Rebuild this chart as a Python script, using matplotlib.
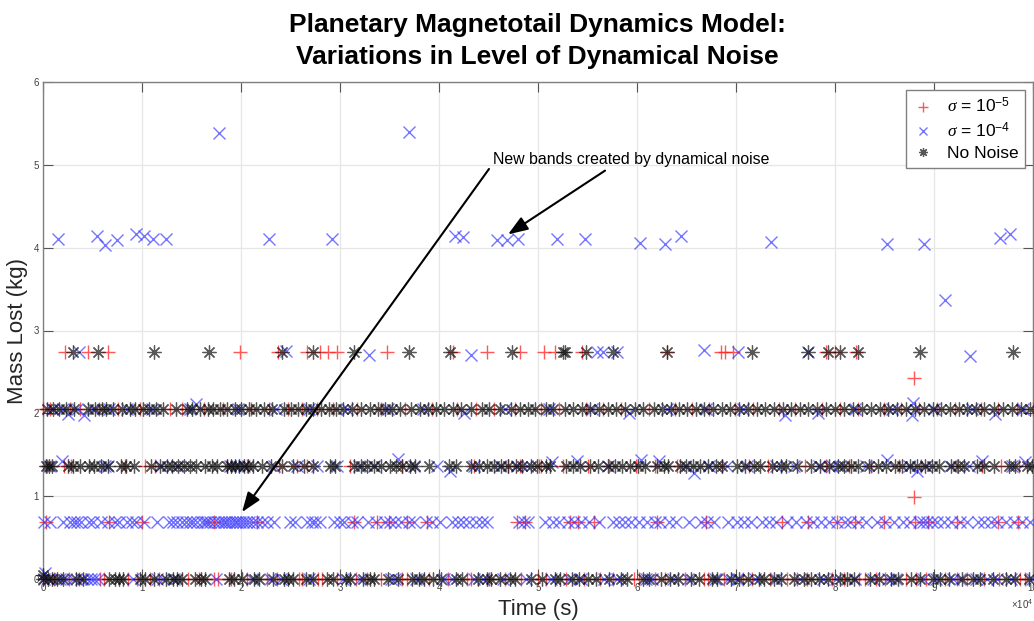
import matplotlib
matplotlib.use("Agg")
import matplotlib.pyplot as plt

plt.rcParams["font.family"] = ["Liberation Sans", "DejaVu Sans"]
plt.rcParams["mathtext.fontset"] = "custom"
plt.rcParams["mathtext.rm"] = "Liberation Sans"
plt.rcParams["mathtext.it"] = "Liberation Serif:italic"

# ---- data: time (s) of each event, grouped by mass-loss level (kg) ----
levels = [0.0, 0.684, 1.368, 2.052, 2.736]

red_l0 = [200, 1100, 2600, 3600, 5800, 6200, 8600, 9500, 10800, 11700, 14600, 15800, 17300, 17700,
          19000, 20600, 22600, 23600, 25900, 26200, 27800, 28200, 29700, 31600, 32700, 34100, 36300,
          36800, 39000, 40900, 42800, 43200, 45000, 46700, 48300, 50000, 50800, 52800, 54600, 56300,
          57600, 59700, 60200, 61800, 62800, 64800, 66800, 67200, 68800, 70700, 71600, 73400, 75200,
          76200, 77200, 79700, 80900, 82400, 83000, 84100, 85100, 87200, 88200, 89200, 91100, 92300,
          93300, 95100, 96600, 98700, 99200]
red_l1 = [340, 6630, 10000, 17240, 21600, 31380, 33740, 34900, 36770, 38790, 47880, 48720, 53230,
          54000, 55690, 62000, 67000, 74600, 77300, 80200, 82050, 84900, 88100, 89430, 92300, 96500,
          98500]
red_l2 = [400, 2100, 2800, 8300, 10300, 11300, 18600, 20600, 23800, 25700, 26700, 31000, 36300,
          43500, 47000, 48200, 50100, 50300, 52500, 55100, 57200, 59900, 61800, 64000, 68600, 71300,
          73200, 77000, 79100, 81400, 83600, 86500, 88700, 92300, 94800, 96800, 98600]
red_l3 = [0, 700, 2700, 3700, 5700, 7600, 9800, 12800, 14000, 16300, 18200, 21000, 22800, 24700,
          26200, 27700, 29300, 31700, 34100, 36600, 39300, 41800, 43700, 45600, 47700, 50300, 52100,
          54800, 56600, 58400, 61200, 63800, 65600, 67300, 69900, 71700, 74300, 76000, 78700, 80500,
          82300, 84900, 86700, 88500, 90300, 92100, 94700, 96500, 98400, 100000]
red_l4 = [2222, 4545, 6566, 19899, 23737, 26667, 27980, 28788, 29697, 34747, 41414, 44848, 48182,
          50606, 51717, 54444, 63030, 68485, 68889, 69697, 79091, 80000, 82121]
red_extra_x = [87980, 87980]
red_extra_y = [2.43, 0.99]

blue_l0 = [100, 600, 1700, 2300, 3000, 3800, 4400, 4800, 5200, 5600, 9100, 11500, 12100, 13200,
           17500, 21100, 22900, 24000, 26900, 30300, 32000, 35200, 35600, 37700, 40500, 41300,
           43500, 44400, 46500, 48800, 51300, 53100, 54300, 56700, 58000, 60900, 61500, 63600,
           65200, 67900, 69200, 70100, 71900, 74000, 76500, 78800, 80100, 82000, 83800, 85400,
           86200, 88900, 90200, 91900, 92600, 94200, 95400, 96400, 97800, 99900]
blue_l1 = [100, 700, 2000, 2700, 3100, 3400, 3800, 4600, 5000, 5900, 6600, 7300, 7700, 8500, 9000,
           9400, 10200, 11500, 12700, 13100, 13500, 14000, 14400, 14800, 15200, 15600, 16100, 16400,
           16600, 16900, 17300, 17700, 18000, 18300, 18500, 18800, 19100, 19400, 19600, 19900,
           20200, 20500, 20800, 21200, 21600, 22100, 22600, 23300, 24900, 25500, 26700, 27200,
           27500, 28000, 29400, 30000, 30400, 31200, 31700, 32800, 33600, 34500, 35100, 35600,
           36200, 37000, 37500, 38700, 39300, 40100, 41300, 41900, 42400, 43000, 43700, 44300,
           44800, 48100, 48600, 49000, 50700, 51500, 52100, 53000, 53600, 54300, 55200, 56200,
           57600, 58200, 58800, 59400, 60200, 61000, 61800, 62300, 63200, 63900, 65300, 66500,
           67100, 67800, 69200, 70100, 70800, 71500, 72600, 73300, 74000, 75200, 76100, 77100,
           77800, 78600, 79400, 80200, 81000, 81500, 82300, 83100, 84200, 85100, 86000, 86900,
           87600, 88500, 88900, 89300, 89800, 90300, 91000, 91700, 92600, 93300, 94400, 95100,
           95800, 96400, 97300, 98100, 98900, 99700]
blue_l2 = [700, 6300, 6600, 11900, 13500, 18900, 19600, 20300, 23300, 25700, 27700, 29700, 31900,
           33400, 37500, 39800, 43500, 46200, 47900, 48900, 57100, 64800, 67300, 69100, 71100,
           74000, 75900, 78400, 79700, 80500, 83100, 87500, 89200, 91600, 93500, 97900]
blue_l3 = [900, 2000, 3400, 5000, 6700, 8500, 11000, 14800, 19700, 23500, 26900, 30700, 34800,
           38400, 46700, 51100, 55500, 63000, 67000, 70700, 82000, 85800, 90000, 93800, 99000]
blue_extra_x = [1515, 5455, 6263, 7475, 9394, 10202, 11111, 12424, 22828, 29192, 41616, 42424,
                45859, 46869, 47980, 51919, 54747, 60303, 62828, 64444, 73535, 85253, 88990, 96667,
                97677, 17778, 36970, 91111, 3636, 24545, 32929, 43232, 55960, 56566, 57980, 66768,
                70202, 77273, 93636, 1900, 35900, 41100, 51400, 53900, 60400, 62200, 65800, 85300,
                88300, 94800, 99200, 2500, 4100, 15500, 42500, 59200, 74900, 78300, 87900, 87800,
                96200, 200]
blue_extra_y = [4.10, 4.14, 4.03, 4.09, 4.16, 4.14, 4.11, 4.11, 4.10, 4.10, 4.14, 4.13,
                4.09, 4.09, 4.10, 4.10, 4.10, 4.06, 4.05, 4.14, 4.07, 4.04, 4.04, 4.12,
                4.16, 5.39, 5.40, 3.37, 2.74, 2.75, 2.71, 2.71, 2.74, 2.74, 2.74, 2.76,
                2.74, 2.74, 2.69, 1.43, 1.45, 1.30, 1.41, 1.42, 1.44, 1.43, 1.28, 1.44,
                1.30, 1.42, 1.41, 1.99, 1.98, 2.11, 2.00, 2.00, 1.98, 2.00, 2.13, 1.98,
                1.99, 0.07]

black_l0 = [0, 500, 900, 1400, 2000, 3300, 4000, 6700, 7300, 7700, 8100, 9800, 10300, 11200, 12400,
            13100, 13500, 14000, 15400, 16000, 16400, 18800, 19300, 20100, 21300, 21800, 23200,
            24300, 24700, 25300, 26600, 27300, 28700, 29300, 30600, 31000, 32300, 33000, 33400,
            34800, 35900, 37300, 38000, 38500, 39400, 40200, 41700, 42300, 43900, 44800, 45300,
            46200, 47200, 47700, 49300, 50400, 51700, 52200, 53400, 54100, 55000, 55900, 57200,
            58400, 59000, 60600, 61200, 62400, 63300, 64100, 65500, 66300, 67600, 68100, 69500,
            70300, 71200, 72300, 72800, 73800, 74500, 75900, 76900, 77600, 78400, 79300, 80500,
            81200, 81900, 83500, 84400, 85700, 86400, 87700, 88600, 89900, 90600, 91500, 92800,
            93900, 94600, 96000, 97300, 98200, 99600]
black_l2 = [300, 600, 900, 2500, 3000, 3700, 4600, 5200, 5900, 6600, 7900, 8400, 9200, 10900, 11800,
            12500, 13000, 13600, 14200, 14800, 15500, 16400, 17100, 17600, 18600, 19000, 19400,
            19800, 20300, 20700, 21200, 22100, 23000, 24100, 25300, 26400, 27300, 29000, 29500,
            31400, 32100, 32700, 33400, 34100, 35000, 35700, 36300, 37100, 37600, 39000, 41000,
            41700, 43200, 44000, 44800, 45600, 46300, 47000, 47800, 48400, 49300, 49900, 50800,
            51200, 52800, 53500, 54200, 55300, 56100, 57100, 57800, 58500, 59300, 60100, 60800,
            62000, 62700, 63100, 64300, 64900, 65700, 66400, 67200, 68000, 68600, 70100, 70900,
            71800, 72400, 73600, 74500, 75000, 76200, 77600, 78500, 79400, 80300, 80900, 81600,
            82300, 83400, 84300, 85200, 86100, 86800, 87600, 88300, 89100, 89800, 90500, 91700,
            92400, 93000, 94300, 95100, 96100, 97600, 98200, 99400, 99900]
black_l3 = [400, 1000, 1600, 2300, 3100, 4500, 5300, 6000, 6400, 7100, 8000, 8800, 9300, 10100,
            10700, 11400, 12100, 13400, 14500, 15100, 15900, 16700, 17200, 17900, 18600, 19400,
            20000, 20800, 21500, 22300, 23100, 24300, 25100, 25800, 26600, 27300, 28100, 28900,
            29600, 30300, 31200, 32100, 33000, 33800, 34500, 35300, 36100, 37200, 38100, 38900,
            39700, 40500, 41400, 42200, 43200, 44300, 45100, 46200, 47300, 48200, 49000, 49700,
            50800, 51500, 52700, 53500, 54400, 55300, 56200, 57100, 57900, 58800, 59800, 60600,
            61700, 62500, 63400, 64200, 65100, 66000, 66800, 67700, 68600, 69400, 70300, 71200,
            72100, 72900, 73800, 74700, 75600, 76500, 77300, 78200, 79100, 80000, 80900, 81800,
            82700, 83600, 84500, 85400, 86300, 87200, 88100, 89000, 89900, 90700, 91600, 92500,
            93300, 94200, 95100, 96100, 97000, 97900, 98800, 99700]
black_l4 = [3030, 5556, 11212, 16768, 24141, 27273, 31414, 36970, 41111, 47374, 52525, 52727, 54848,
            57576, 63030, 71616, 77273, 79293, 80505, 82323, 88586, 97980]
black_extra_x = [0]
black_extra_y = [0.05]

x_ticks = [0, 1, 2, 3, 4, 5, 6, 7, 8, 9, 10]   # in units of 10^4 s
y_ticks = [0, 1, 2, 3, 4, 5, 6]

label_red = r"$\sigma$ = 10$^{\mathrm{-5}}$"
label_blue = r"$\sigma$ = 10$^{\mathrm{-4}}$"
label_black = "No Noise"

# ---- figure ----
fig = plt.figure(figsize=(10.34, 6.21), dpi=100)
ax = fig.add_axes([43 / 1034, 1 - 579 / 621, 990 / 1034, 497 / 621])

RED, BLUE, BLACK = "#ff2020", "#3a3aff", "#101010"
spine_c = "#808080"


def band_series(groups):
    xs, ys = [], []
    for lvl, vals in groups:
        xs.extend(vals)
        ys.extend([lvl] * len(vals))
    return xs, ys


rx, ry = band_series([(levels[0], red_l0), (levels[1], red_l1), (levels[2], red_l2),
                      (levels[3], red_l3), (levels[4], red_l4)])
rx += red_extra_x
ry += red_extra_y
bx, by = band_series([(levels[0], blue_l0), (levels[1], blue_l1), (levels[2], blue_l2),
                      (levels[3], blue_l3)])
bx += blue_extra_x
by += blue_extra_y
kx, ky = band_series([(levels[0], black_l0), (levels[2], black_l2), (levels[3], black_l3),
                      (levels[4], black_l4)])
kx += black_extra_x
ky += black_extra_y

ax.plot(rx, ry, linestyle="none", marker="+", ms=10, mew=1.0, color=RED, alpha=0.75,
        clip_on=False, zorder=3, label=label_red)
ax.plot(bx, by, linestyle="none", marker="x", ms=8, mew=1.0, color=BLUE, alpha=0.7,
        clip_on=False, zorder=4, label=label_blue)
ax.plot(kx, ky, linestyle="none", marker=(8, 2, 0), ms=10, mew=0.9, color=BLACK, alpha=0.7,
        clip_on=False, zorder=5, label=label_black)

ax.set_xlim(0, 100000)
ax.set_ylim(0, 6)
ax.set_xticks([t * 1e4 for t in x_ticks])
ax.set_xticklabels([str(t) for t in x_ticks])
ax.set_yticks(y_ticks)
ax.set_yticklabels([str(t) for t in y_ticks])
ax.grid(True, color="#e6e6e6", lw=0.9)
ax.set_axisbelow(True)
ax.tick_params(direction="in", length=7, width=0.8, color="#555555", labelsize=7,
               labelcolor="#404040", top=True, right=True, pad=3)
for s in ax.spines.values():
    s.set_color(spine_c)
    s.set_linewidth(1.0)

ax.set_xlabel("Time (s)", fontsize=16, color="#262626", labelpad=4)
ax.set_ylabel("Mass Lost (kg)", fontsize=16, color="#262626", labelpad=4)
ax.text(1.0, -0.036, r"$\times\mathregular{10^{4}}$", transform=ax.transAxes, ha="right",
        va="top", fontsize=7, color="#404040")

fig.text(537 / 1034, 1 - 41 / 621,
         "Planetary Magnetotail Dynamics Model:\nVariations in Level of Dynamical Noise",
         ha="center", va="center", fontsize=19, fontweight="bold", linespacing=1.45)

# annotation with two arrows
ax.text(45450, 5.07, "New bands created by dynamical noise", fontsize=11.4, va="center",
        ha="left", color="black", zorder=6)
arrow_kw = dict(arrowstyle="-|>,head_length=0.6,head_width=0.22", color="black", lw=1.5,
                mutation_scale=20, shrinkA=0, shrinkB=0)
ax.annotate("", xy=(20100, 0.807), xytext=(45050, 4.95), arrowprops=arrow_kw, zorder=6)
ax.annotate("", xy=(46970, 4.16), xytext=(56770, 4.93), arrowprops=arrow_kw, zorder=6)

leg = ax.legend(loc="upper right", bbox_to_anchor=(0.992, 0.984), borderaxespad=0,
                fontsize=12.5, markerscale=0.65, handlelength=1.2, handletextpad=0.8,
                labelspacing=0.32, borderpad=0.38, fancybox=False, framealpha=1)
leg.get_frame().set_edgecolor(spine_c)
leg.get_frame().set_linewidth(1.0)

fig.savefig("out.png", dpi=100)
